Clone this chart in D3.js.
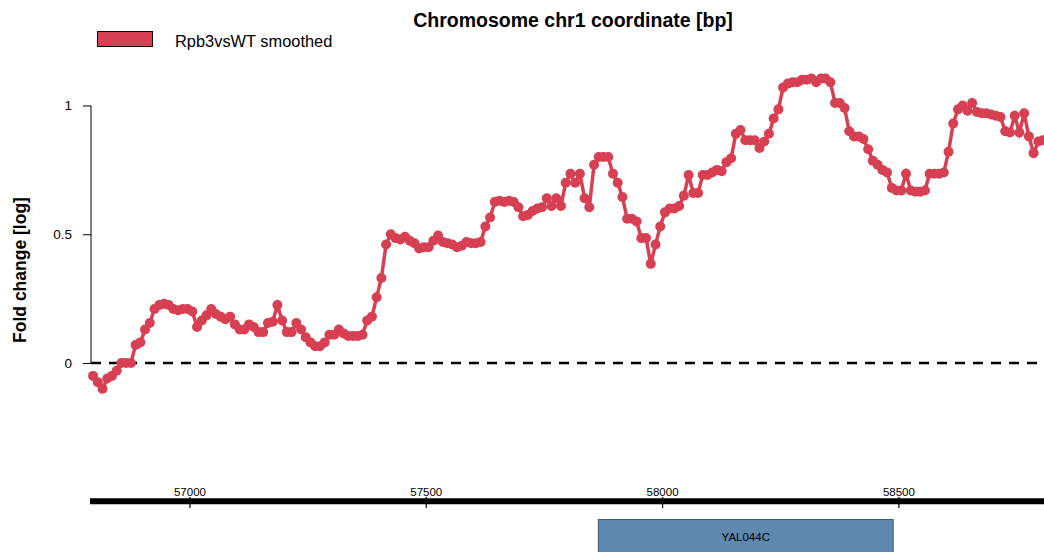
<!DOCTYPE html>
<html>
<head>
<meta charset="utf-8">
<script src="https://cdn.jsdelivr.net/npm/d3@7"></script>
<style>
  body { margin: 0; background: #fff; }
  svg { display: block; font-family: "Liberation Sans", Arial, sans-serif; }
</style>
</head>
<body>
<svg id="chart" width="1044" height="552"></svg>
<script>
const RED = '#d73f52';
const GENE_FILL = '#5f88ae';

// genomic positions [bp] of the smoothed track
const positions = [
  56795, 56805, 56815, 56825, 56835, 56845, 56855, 56865, 56875, 56885,
  56895, 56905, 56915, 56925, 56935, 56945, 56955, 56965, 56975, 56985,
  56995, 57005, 57015, 57025, 57035, 57045, 57055, 57065, 57075, 57085,
  57095, 57105, 57115, 57125, 57135, 57145, 57155, 57165, 57175, 57185,
  57195, 57205, 57215, 57225, 57235, 57245, 57255, 57265, 57275, 57285,
  57295, 57305, 57315, 57325, 57335, 57345, 57355, 57365, 57375, 57385,
  57395, 57405, 57415, 57425, 57435, 57445, 57455, 57465, 57475, 57485,
  57495, 57505, 57515, 57525, 57535, 57545, 57555, 57565, 57575, 57585,
  57595, 57605, 57615, 57625, 57635, 57645, 57655, 57665, 57675, 57685,
  57695, 57705, 57715, 57725, 57735, 57745, 57755, 57765, 57775, 57785,
  57795, 57805, 57815, 57825, 57835, 57845, 57855, 57865, 57875, 57885,
  57895, 57905, 57915, 57925, 57935, 57945, 57955, 57965, 57975, 57985,
  57995, 58005, 58015, 58025, 58035, 58045, 58055, 58065, 58075, 58085,
  58095, 58105, 58115, 58125, 58135, 58145, 58155, 58165, 58175, 58185,
  58195, 58205, 58215, 58225, 58235, 58245, 58255, 58265, 58275, 58285,
  58295, 58305, 58315, 58325, 58335, 58345, 58355, 58365, 58375, 58385,
  58395, 58405, 58415, 58425, 58435, 58445, 58455, 58465, 58475, 58485,
  58495, 58505, 58515, 58525, 58535, 58545, 58555, 58565, 58575, 58585,
  58595, 58605, 58615, 58625, 58635, 58645, 58655, 58665, 58675, 58685,
  58695, 58705, 58715, 58725, 58735, 58745, 58755, 58765, 58775, 58785,
  58795, 58805
];

// log fold change, Rpb3 vs WT (smoothed)
const foldChange = [
  -0.05, -0.075, -0.10, -0.06, -0.05, -0.03, 0.0, 0.0, 0.0, 0.07,
  0.08, 0.13, 0.155, 0.21, 0.225, 0.23, 0.225, 0.21, 0.205, 0.21,
  0.21, 0.20, 0.14, 0.165, 0.185, 0.21, 0.19, 0.18, 0.17, 0.18,
  0.15, 0.13, 0.13, 0.15, 0.14, 0.12, 0.12, 0.155, 0.16, 0.225,
  0.165, 0.12, 0.12, 0.155, 0.13, 0.10, 0.08, 0.065, 0.065, 0.08,
  0.11, 0.11, 0.13, 0.115, 0.105, 0.105, 0.105, 0.11, 0.165, 0.18,
  0.255, 0.33, 0.46, 0.50, 0.485, 0.48, 0.49, 0.475, 0.465, 0.445,
  0.45, 0.45, 0.475, 0.495, 0.47, 0.465, 0.46, 0.45, 0.455, 0.47,
  0.465, 0.465, 0.47, 0.53, 0.565, 0.625, 0.63, 0.625, 0.63, 0.625,
  0.605, 0.57, 0.575, 0.59, 0.60, 0.605, 0.64, 0.61, 0.64, 0.61,
  0.70, 0.735, 0.70, 0.735, 0.64, 0.605, 0.77, 0.80, 0.80, 0.80,
  0.735, 0.70, 0.645, 0.56, 0.56, 0.55, 0.485, 0.485, 0.385, 0.46,
  0.53, 0.585, 0.60, 0.60, 0.61, 0.65, 0.73, 0.66, 0.66, 0.73,
  0.73, 0.74, 0.75, 0.745, 0.78, 0.795, 0.89, 0.905, 0.865, 0.865,
  0.865, 0.835, 0.86, 0.89, 0.95, 0.985, 1.07, 1.085, 1.09, 1.09,
  1.10, 1.10, 1.105, 1.09, 1.105, 1.105, 1.09, 1.01, 1.01, 0.99,
  0.90, 0.88, 0.88, 0.87, 0.83, 0.785, 0.77, 0.75, 0.74, 0.68,
  0.67, 0.67, 0.735, 0.67, 0.665, 0.665, 0.67, 0.735, 0.735, 0.735,
  0.74, 0.82, 0.93, 0.985, 1.0, 0.98, 1.01, 0.975, 0.97, 0.97,
  0.965, 0.96, 0.955, 0.90, 0.895, 0.96, 0.895, 0.97, 0.88, 0.815,
  0.86, 0.865
];

const yTicks = [0, 0.5, 1];
const yTickLabels = ['0', '0.5', '1'];
const xTicks = [57000, 57500, 58000, 58500];

const genes = [{ name: 'YAL044C', start: 57864, end: 58488 }];

const data = positions.map((p, i) => ({ pos: p, fc: foldChange[i] }));

const svg = d3.select('#chart');

// scales
const x = d3.scaleLinear().domain([56790, 58807]).range([90.7, 1044]);
const y = d3.scaleLinear().domain([0, 1]).range([363, 105.5]);

// title
svg.append('text')
    .attr('x', 573).attr('y', 27)
    .attr('text-anchor', 'middle')
    .attr('font-size', 19.5).attr('font-weight', 'bold')
    .text('Chromosome chr1 coordinate [bp]');

// legend
svg.append('rect')
    .attr('x', 97.5).attr('y', 31.5).attr('width', 55).attr('height', 15)
    .attr('fill', RED).attr('stroke', '#000').attr('stroke-width', 1);
svg.append('text')
    .attr('x', 175).attr('y', 46.5)
    .attr('font-size', 16.4)
    .text('Rpb3vsWT smoothed');

// y axis
const yAxis = d3.axisLeft(y)
    .tickValues(yTicks)
    .tickFormat((d, i) => yTickLabels[i])
    .tickSize(8)
    .tickPadding(11);
const gy = svg.append('g').attr('transform', 'translate(91,0)').call(yAxis);
gy.select('.domain').attr('d', `M0,${y(0)}V${y(1)}`).attr('stroke', '#000');
gy.selectAll('text').attr('font-size', 13.5).attr('font-family', '"Liberation Sans", Arial, sans-serif').attr('fill', '#000');

svg.append('text')
    .attr('transform', 'translate(26,270) rotate(-90)')
    .attr('text-anchor', 'middle')
    .attr('font-size', 17.5).attr('font-weight', 'bold')
    .text('Fold change [log]');

// zero line
svg.append('line')
    .attr('x1', 91).attr('x2', 1044)
    .attr('y1', y(0)).attr('y2', y(0))
    .attr('stroke', '#000').attr('stroke-width', 2.5)
    .attr('stroke-dasharray', '10,8');

// track
const line = d3.line().x(d => x(d.pos)).y(d => y(d.fc));
svg.append('path')
    .datum(data)
    .attr('d', line)
    .attr('fill', 'none')
    .attr('stroke', RED)
    .attr('stroke-width', 3.5);

svg.append('g')
    .selectAll('circle')
    .data(data)
    .join('circle')
    .attr('cx', d => x(d.pos))
    .attr('cy', d => y(d.fc))
    .attr('r', 5)
    .attr('fill', RED);

// genome axis
svg.append('line')
    .attr('x1', 90).attr('x2', 1044)
    .attr('y1', 501.3).attr('y2', 501.3)
    .attr('stroke', '#000').attr('stroke-width', 6);

const gx = svg.append('g');
gx.selectAll('line.tick')
    .data(xTicks)
    .join('line')
    .attr('class', 'tick')
    .attr('x1', d => x(d)).attr('x2', d => x(d))
    .attr('y1', 497).attr('y2', 508)
    .attr('stroke', '#000').attr('stroke-width', 1.2);
gx.selectAll('text')
    .data(xTicks)
    .join('text')
    .attr('x', d => x(d)).attr('y', 496)
    .attr('text-anchor', 'middle')
    .attr('font-size', 11.5)
    .text(d => d);

// genes
const gg = svg.append('g').selectAll('g').data(genes).join('g');
gg.append('rect')
    .attr('x', d => x(d.start))
    .attr('y', 519.5)
    .attr('width', d => x(d.end) - x(d.start))
    .attr('height', 60)
    .attr('fill', GENE_FILL)
    .attr('stroke', '#4d5a66')
    .attr('stroke-width', 1);
gg.append('text')
    .attr('x', d => (x(d.start) + x(d.end)) / 2)
    .attr('y', 541)
    .attr('text-anchor', 'middle')
    .attr('font-size', 11.5)
    .text(d => d.name);
</script>
</body>
</html>
